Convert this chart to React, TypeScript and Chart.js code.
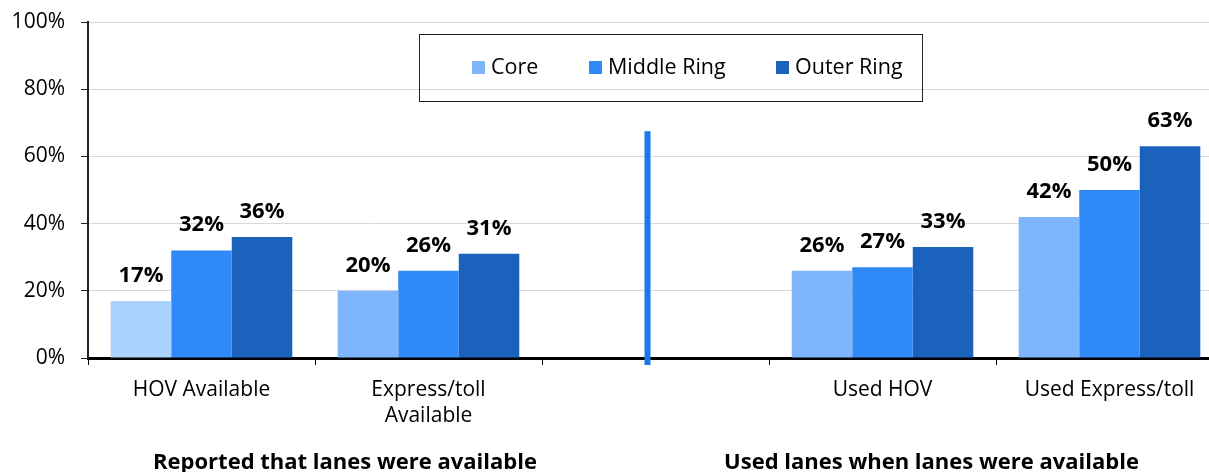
import React, { useEffect, useRef } from 'react';
import { Chart, registerables } from 'chart.js';

Chart.register(...registerables);

const categories: (string | string[])[] = ['HOV Available', ['Express/toll', 'Available'], '', 'Used HOV', 'Used Express/toll'];
const seriesNames = ['Core', 'Middle Ring', 'Outer Ring'];
const coreValues = [17, 20, null, 26, 42];
const middleValues = [32, 26, null, 27, 50];
const outerValues = [36, 31, null, 33, 63];
const yTickValues = [0, 20, 40, 60, 80, 100];
const groupLabels = ['Reported that lanes were available', 'Used lanes when lanes were available'];
const dividerTopValue = 67.5;

const FONT = "'Open Sans', 'Noto Sans', sans-serif";
const coreColors = ['#abd2fd', '#7fb5fb', '#7fb5fb', '#7fb5fb', '#7fb5fb'];
const middleColor = '#2f89f6';
const outerColor = '#1b62bc';

const decorPlugin = {
  id: 'decor',
  afterDatasetsDraw(chart: any) {
    const ctx = chart.ctx;
    ctx.save();
    ctx.font = `bold 22px ${FONT}`;
    ctx.fillStyle = '#000';
    ctx.textAlign = 'center';
    ctx.textBaseline = 'alphabetic';
    chart.data.datasets.forEach((ds: any, i: number) => {
      const meta = chart.getDatasetMeta(i);
      meta.data.forEach((el: any, j: number) => {
        const v = ds.data[j];
        if (v === null || v === undefined) return;
        ctx.fillText(`${v}%`, el.x, el.y - 19);
      });
    });
    ctx.restore();
  },
  afterDraw(chart: any) {
    const ctx = chart.ctx;
    const xs = chart.scales.x;
    const ys = chart.scales.y;
    const area = chart.chartArea;
    ctx.save();
    // divider line
    const dx = xs.getPixelForValue(2) - 8;
    const topY = ys.getPixelForValue(dividerTopValue);
    ctx.fillStyle = '#1a78e9';
    ctx.fillRect(dx - 3, topY, 6, area.bottom + 7 - topY);

    // legend box
    ctx.strokeStyle = '#222';
    ctx.lineWidth = 1;
    ctx.strokeRect(419.5, 34.5, 503, 67);
    const itemX = [472, 589, 776];
    const legendColors = [coreColors[1], middleColor, outerColor];
    ctx.font = `21.5px ${FONT}`;
    ctx.textAlign = 'left';
    ctx.textBaseline = 'middle';
    seriesNames.forEach((name, i) => {
      ctx.fillStyle = legendColors[i];
      ctx.fillRect(itemX[i], 61, 13, 13);
      ctx.fillStyle = '#000';
      ctx.fillText(name, itemX[i] + 19, 68);
    });

    // group labels
    ctx.font = `bold 22px ${FONT}`;
    ctx.textAlign = 'center';
    ctx.textBaseline = 'alphabetic';
    ctx.fillStyle = '#000';
    ctx.fillText(groupLabels[0], 345, 469);
    ctx.fillText(groupLabels[1], 931.5, 469);
    ctx.restore();
  },
};

export default function App() {
  const ref = useRef<HTMLCanvasElement>(null);
  useEffect(() => {
    if (!ref.current) return;
    const chart = new Chart(ref.current, {
      type: 'bar',
      data: {
        labels: categories as any,
        datasets: [
          { label: seriesNames[0], data: coreValues as any, backgroundColor: coreColors },
          { label: seriesNames[1], data: middleValues as any, backgroundColor: middleColor },
          { label: seriesNames[2], data: outerValues as any, backgroundColor: outerColor },
        ],
      },
      options: {
        animation: false,
        responsive: true,
        maintainAspectRatio: false,
        layout: { padding: { top: 22, right: 1, left: 0, bottom: 0 } },
        datasets: { bar: { categoryPercentage: 0.8, barPercentage: 1.0 } },
        plugins: {
          legend: { display: false },
          tooltip: { enabled: false },
        },
        scales: {
          x: {
            afterFit: (s: any) => { s.height = 114; },
            grid: { display: true, drawOnChartArea: false, drawTicks: true, tickLength: 7, offset: true, tickColor: '#000', tickWidth: 1 },
            border: { display: true, color: '#000', width: 3 },
            ticks: { font: { family: FONT, size: 21, lineHeight: 1.25 }, color: '#000', padding: 12, maxRotation: 0, autoSkip: false },
          },
          y: {
            min: 0,
            max: 100,
            afterFit: (s: any) => { s.width = 88; s.paddingTop = 0; s.paddingBottom = 0; },
            afterBuildTicks: (s: any) => { s.ticks = yTickValues.map((v) => ({ value: v })); },
            grid: { color: '#d9d9d9', lineWidth: 1, tickLength: 7, tickColor: '#222', drawTicks: true },
            border: { display: true, color: '#222', width: 2 },
            ticks: { font: { family: FONT, size: 21 }, color: '#000', padding: 16, callback: (v: any) => `${v}%` },
          },
        },
      },
      plugins: [decorPlugin],
    });
    return () => chart.destroy();
  }, []);

  return (
    <div style={{ position: 'fixed', left: 0, top: 0, width: 1209, height: 472, overflow: 'hidden', background: '#fff' }}>
      <div style={{ position: 'absolute', left: 0, top: 0, width: 1224, height: 472 }}>
        <canvas ref={ref} />
      </div>
    </div>
  );
}
